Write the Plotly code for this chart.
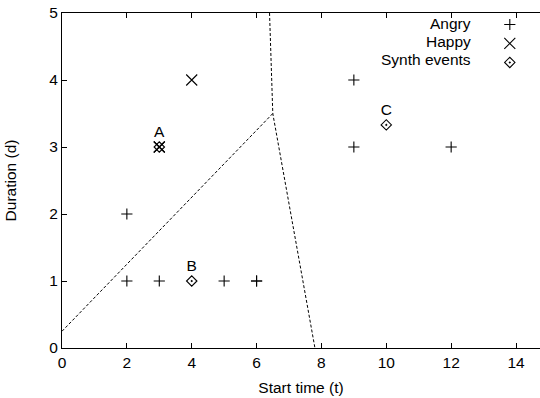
import plotly.graph_objects as go

# Data
angry_x = [2, 2, 3, 5, 6, 6, 9, 9, 12]
angry_y = [2, 1, 1, 1, 1, 1, 4, 3, 3]
happy_x = [3, 3, 4]
happy_y = [3, 3, 4]
synth_x = [3, 4, 10]
synth_y = [3, 1, 3.33]
synth_labels = ["A", "B", "C"]
boundary1_x = [0, 6.5]
boundary1_y = [0.25, 3.5]
boundary2_x = [6.4, 6.5, 7.8]
boundary2_y = [5, 3.5, 0]
x_ticks = [0, 2, 4, 6, 8, 10, 12, 14]
y_ticks = [0, 1, 2, 3, 4, 5]
legend_names = ["Angry", "Happy", "Synth events"]

FONT = "Liberation Sans, Arial, Helvetica, sans-serif"
FS = 15.5

fig = go.Figure()
fig.add_trace(go.Scatter(x=boundary1_x, y=boundary1_y, mode="lines",
                         line=dict(color="black", width=1, dash="3px,2px"),
                         showlegend=False, hoverinfo="skip"))
fig.add_trace(go.Scatter(x=boundary2_x, y=boundary2_y, mode="lines",
                         line=dict(color="black", width=1, dash="3px,2px"),
                         showlegend=False, hoverinfo="skip"))
fig.add_trace(go.Scatter(x=angry_x, y=angry_y, mode="markers", name=" ",
                         marker=dict(symbol="cross-thin-open", size=8, color="black",
                                     line=dict(color="black", width=1.1))))
fig.add_trace(go.Scatter(x=happy_x, y=happy_y, mode="markers", name=" ",
                         marker=dict(symbol="x-thin-open", size=11, color="black",
                                     line=dict(color="black", width=1.1))))
fig.add_trace(go.Scatter(x=synth_x, y=synth_y, mode="markers+text", name=" ",
                         text=synth_labels, textposition="top center",
                         textfont=dict(family=FONT, size=FS, color="black"),
                         marker=dict(symbol="diamond-open-dot", size=8, color="black",
                                     line=dict(color="black", width=1.1))))

# legend labels (right-aligned text to the left of the keys)
legend_label_y = [0.97, 0.915, 0.86]
for name, ly in zip(legend_names, legend_label_y):
    fig.add_annotation(x=0.86, y=ly, xref="paper", yref="paper",
                       text=name, showarrow=False, xanchor="right", yanchor="middle",
                       font=dict(family=FONT, size=FS, color="black"))

fig.update_layout(
    width=540, height=398,
    margin=dict(l=62, r=0, t=13, b=50, autoexpand=False),
    plot_bgcolor="white", paper_bgcolor="white",
    font=dict(family=FONT, size=FS, color="black"),
    showlegend=True,
    legend=dict(x=0.895, y=1.009, xanchor="left", yanchor="top",
                bgcolor="rgba(0,0,0,0)", font=dict(size=8),
                itemwidth=30, tracegroupgap=0),
    xaxis=dict(range=[0, 14.74], tickvals=x_ticks, ticks="inside", ticklen=5,
               tickcolor="black", showline=True, linecolor="black", linewidth=1,
               mirror="ticks", showgrid=False, zeroline=False, automargin=False,
               title=dict(text="Start time (t)", standoff=12, font=dict(size=FS)),
               tickfont=dict(size=FS)),
    yaxis=dict(range=[0, 5], tickvals=y_ticks, ticks="inside", ticklen=5,
               tickcolor="black", showline=True, linecolor="black", linewidth=1,
               showgrid=False, zeroline=False, automargin=False,
               title=dict(text="Duration (d)", standoff=28, font=dict(size=FS)),
               tickfont=dict(size=FS)),
)

fig.write_html("out.html", config={"displayModeBar": False},
               post_script="document.body.style.margin='0';")
